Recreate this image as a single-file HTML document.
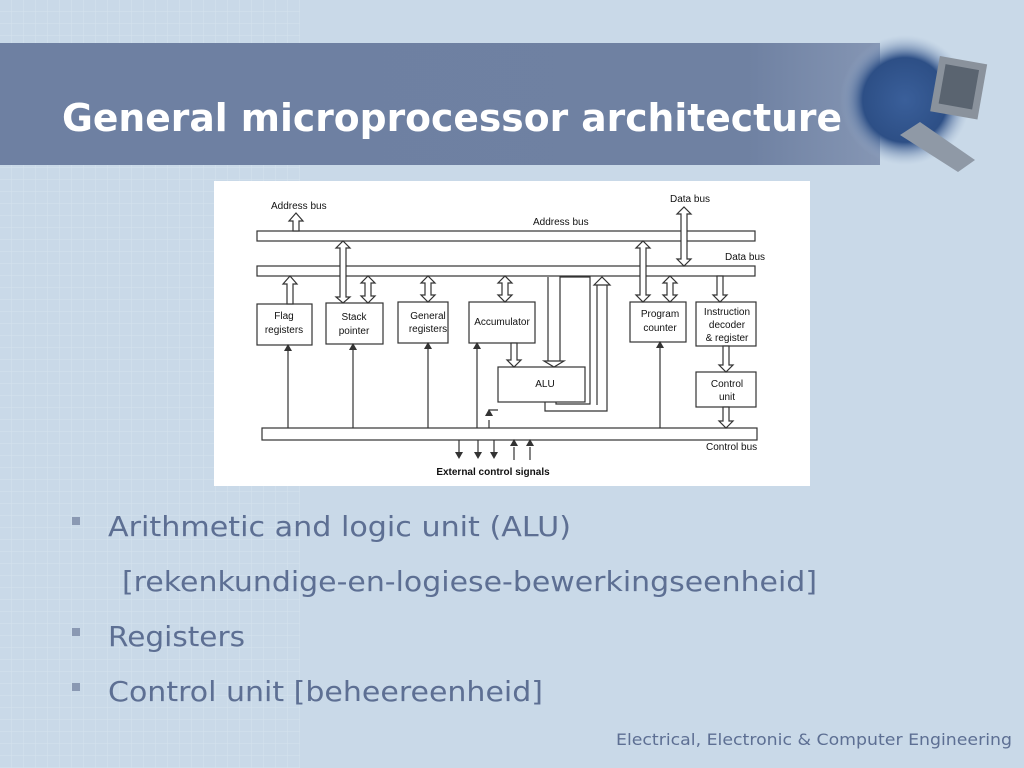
<!DOCTYPE html>
<html><head><meta charset="utf-8"><style>
html,body{margin:0;padding:0;width:1024px;height:768px;overflow:hidden;background:#c9d9e8}
svg{display:block}
</style></head><body>
<svg width="1024" height="768" viewBox="0 0 1024 768" xmlns="http://www.w3.org/2000/svg">
<defs>
<pattern id="grid" width="12" height="12" patternUnits="userSpaceOnUse">
<path d="M12 0V12M0 12H12" stroke="#d8e4ef" stroke-width="1" fill="none"/>
</pattern>
<linearGradient id="band" x1="0" x2="1" y1="0" y2="0">
<stop offset="0" stop-color="#6e80a2"/>
<stop offset="0.85" stop-color="#6f81a2"/>
<stop offset="1" stop-color="#8596b4"/>
</linearGradient>
<radialGradient id="globe" cx="0.5" cy="0.5" r="0.5">
<stop offset="0" stop-color="#3a5f9a"/>
<stop offset="0.65" stop-color="#2d4f86"/>
<stop offset="1" stop-color="#9fb3cf" stop-opacity="0"/>
</radialGradient>
</defs>
<rect width="1024" height="768" fill="#c9d9e8"/>
<rect width="300" height="768" fill="url(#grid)" opacity="0.8"/>
<rect x="0" y="43" width="880" height="122" fill="url(#band)"/>
<circle cx="905" cy="100" r="65" fill="url(#globe)"/>
<rect x="935" y="60" width="48" height="56" fill="#8a929c" transform="rotate(10 960 86)"/>
<rect x="942" y="67" width="34" height="40" fill="#5a6470" transform="rotate(10 960 86)"/>
<polygon points="900,135 920,122 975,160 958,172" fill="#8f99a6"/>
<text x="62" y="131" font-family="DejaVu Sans, sans-serif" font-weight="bold" font-size="38" fill="#ffffff" textLength="780" lengthAdjust="spacingAndGlyphs">General microprocessor architecture</text>

<rect x="214" y="181" width="596" height="305" fill="#ffffff"/>
<g fill="#fff" stroke="#333" stroke-width="1.2">
<rect x="257" y="231" width="498" height="10"/>
<rect x="257" y="266" width="498" height="10"/>
<rect x="262" y="428" width="495" height="12"/>
<rect x="257" y="304" width="55" height="41"/>
<rect x="326" y="303" width="57" height="41"/>
<rect x="398" y="302" width="50" height="41"/>
<rect x="469" y="302" width="66" height="41"/>
<rect x="498" y="367" width="87" height="35"/>
<rect x="630" y="302" width="56" height="40"/>
<rect x="696" y="302" width="60" height="44"/>
<rect x="696" y="372" width="60" height="35"/>
<polygon points="293,231 293,221 289,221 296,213 303,221 299,221 299,231"/>
<polygon points="340,248 336,248 343,241 350,248 346,248 346,297 350,297 343,303 336,297 340,297"/>
<polygon points="287,304 287,284 283,284 290,276 297,284 293,284 293,304"/>
<polygon points="365,283 361,283 368,276 375,283 371,283 371,296 375,296 368,303 361,296 365,296"/>
<polygon points="425,283 421,283 428,276 435,283 431,283 431,295 435,295 428,302 421,295 425,295"/>
<polygon points="502,283 498,283 505,276 512,283 508,283 508,295 512,295 505,302 498,295 502,295"/>
<polygon points="511,343 511,360 507,360 514,367 521,360 517,360 517,343"/>
<polygon points="640,248 636,248 643,241 650,248 646,248 646,295 650,295 643,302 636,295 640,295"/>
<polygon points="667,283 663,283 670,276 677,283 673,283 673,295 677,295 670,302 663,295 667,295"/>
<polygon points="681,214 677,214 684,207 691,214 687,214 687,259 691,259 684,266 677,259 681,259"/>
<polygon points="717,276 717,295 713,295 720,302 727,295 723,295 723,276"/>
<polygon points="723,346 723,365 719,365 726,372 733,365 729,365 729,346"/>
<polygon points="723,407 723,421 719,421 726,428 733,421 729,421 729,407"/>
<path d="M548,277V361 M560,361V277H590V404H556V402" fill="none"/>
<polygon points="544,361 554,367 564,361"/>
<path d="M545,402V411H607V285 M597,285V405" fill="none"/>
<polygon points="594,285 602,277 610,285"/>
</g>
<g stroke="#333" stroke-width="1.2" fill="none">
<path d="M288,428V350 M353,428V349 M428,428V348 M477,428V348 M660,428V347 M489,428V420 M489,414V410H498"/>
<path d="M459,440V453 M478,440V453 M494,440V453 M514,447V460 M530,447V460"/>
</g>
<g fill="#333">
<polygon points="284,351 288,344 292,351"/><polygon points="349,350 353,343 357,350"/>
<polygon points="424,349 428,342 432,349"/><polygon points="473,349 477,342 481,349"/>
<polygon points="656,348 660,341 664,348"/><polygon points="485,416 489,409 493,416"/>
<polygon points="455,452 459,459 463,452"/><polygon points="474,452 478,459 482,452"/>
<polygon points="490,452 494,459 498,452"/><polygon points="510,446 514,439 518,446"/>
<polygon points="526,446 530,439 534,446"/>
</g>
<g font-family="Liberation Sans, sans-serif" font-size="10" fill="#111">
<text x="271" y="209">Address bus</text>
<text x="533" y="225">Address bus</text>
<text x="670" y="202">Data bus</text>
<text x="725" y="260">Data bus</text>
<text x="706" y="450">Control bus</text>
<g text-anchor="middle">
<text x="284" y="319">Flag</text><text x="284" y="333">registers</text>
<text x="354" y="320">Stack</text><text x="354" y="334">pointer</text>
<text x="428" y="319">General</text><text x="428" y="332">registers</text>
<text x="502" y="325">Accumulator</text>
<text x="545" y="387">ALU</text>
<text x="660" y="317">Program</text><text x="660" y="331">counter</text>
<text x="727" y="315">Instruction</text><text x="727" y="328">decoder</text><text x="727" y="341">&amp; register</text>
<text x="727" y="387">Control</text><text x="727" y="400">unit</text>
<text x="493" y="475" font-weight="bold">External control signals</text>
</g>
</g>

<g fill="#8a99b3"><rect x="72" y="517" width="8" height="8"/><rect x="72" y="628" width="8" height="8"/><rect x="72" y="683" width="8" height="8"/></g>
<g font-family="DejaVu Sans, sans-serif" font-size="28" fill="#5d6f93">
<text x="108" y="536" textLength="463" lengthAdjust="spacingAndGlyphs">Arithmetic and logic unit (ALU)</text>
<text x="122" y="591" textLength="695" lengthAdjust="spacingAndGlyphs">[rekenkundige-en-logiese-bewerkingseenheid]</text>
<text x="108" y="646" textLength="137" lengthAdjust="spacingAndGlyphs">Registers</text>
<text x="108" y="701" textLength="435" lengthAdjust="spacingAndGlyphs">Control unit [beheereenheid]</text>
</g>
<text x="1012" y="745" text-anchor="end" font-family="DejaVu Sans, sans-serif" font-size="16" fill="#5d6f93" textLength="396" lengthAdjust="spacingAndGlyphs">Electrical, Electronic &amp; Computer Engineering</text>
</svg>
</body></html>
